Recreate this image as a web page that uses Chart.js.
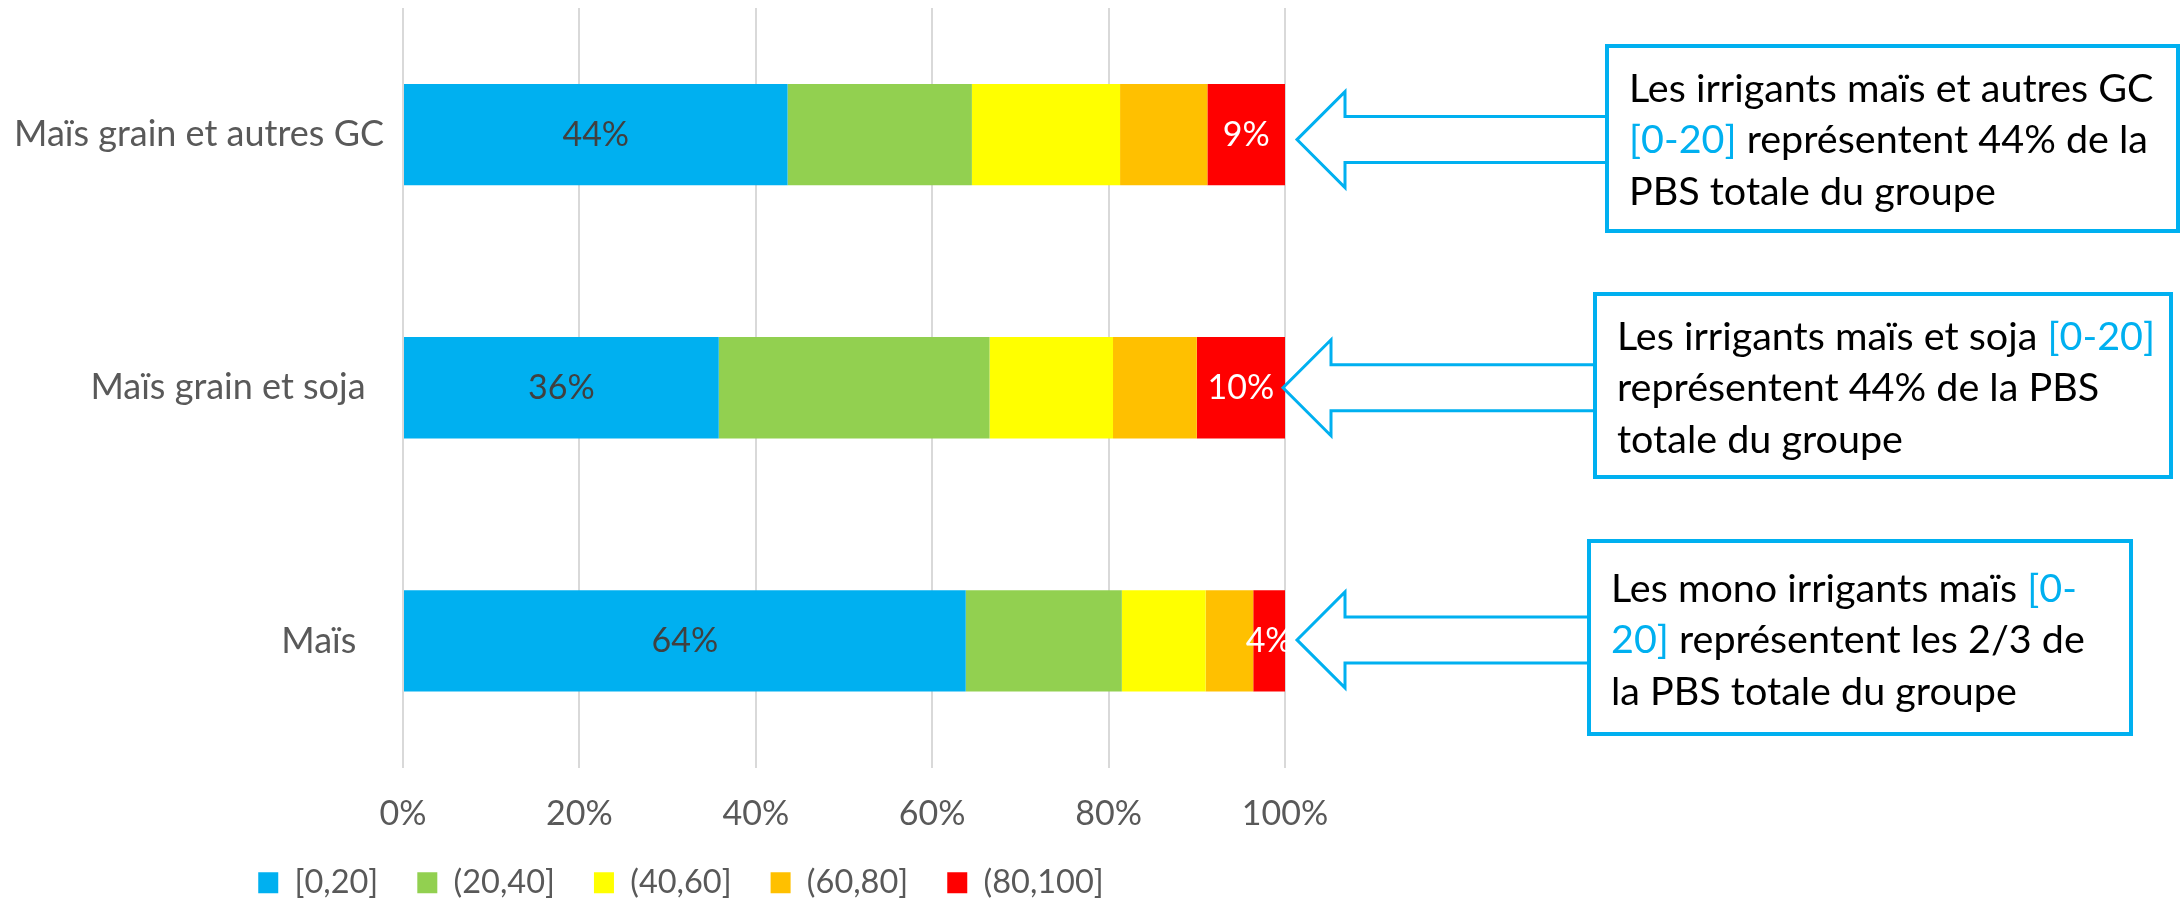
<!DOCTYPE html>
<html lang="fr">
<head>
<meta charset="utf-8">
<title>PBS par classe d'irrigation</title>
<script src="https://cdn.jsdelivr.net/npm/chart.js@4.4.1/dist/chart.umd.min.js"></script>
<style>
  html, body { margin: 0; padding: 0; background: #fff; }
  #wrap { position: relative; width: 2182px; height: 901px; }
</style>
</head>
<body>
<div id="wrap"><canvas id="myChart"></canvas></div>
<script>
// donnees (% de la PBS du groupe)
const categories = ['Maïs grain et autres GC', 'Maïs grain et soja  ', 'Maïs   '];
const classes = ['[0,20]', '(20,40]', '(40,60]', '(60,80]', '(80,100]'];
const part0_20 = [43.6, 35.8, 63.8];
const part20_40 = [20.9, 30.7, 17.7];
const part40_60 = [16.8, 14.0, 9.5];
const part60_80 = [9.9, 9.5, 5.4];
const part80_100 = [8.8, 10.0, 3.6];
const tickLabels = ['0%', '20%', '40%', '60%', '80%', '100%'];

// textes des encadres, {..} = en bleu
const notes = [
  ['Les irrigants maïs et autres GC', '{[0-20]} représentent 44% de la', 'PBS totale du groupe'],
  ['Les irrigants maïs et soja {[0-20]}', 'représentent 44% de la PBS', 'totale du groupe'],
  ['Les mono irrigants maïs {[0-}', '{20]} représentent les 2/3 de', 'la PBS totale du groupe']
];

const couleurs = ['#00B0F0', '#92D050', '#FFFF00', '#FFC000', '#FF0000'];
const police = 'Lato';
const gris = '#595959';

// position des encadres
const boites = [
  { x: 1607, y: 46, w: 571, h: 185, ty: 43, gap: 12, dy: 5 },
  { x: 1595, y: 294, w: 576, h: 183, ty: 43, gap: -2, dy: 0 },
  { x: 1589, y: 541, w: 542, h: 193, ty: 48, gap: 12, dy: -1 }
];

const etiquettes = {
  id: 'etiquettes',
  afterDatasetsDraw(chart) {
    const ctx = chart.ctx;
    ctx.save();
    ctx.font = '34px ' + police;
    ctx.textAlign = 'center';
    ctx.textBaseline = 'middle';
    [[0, '#404040'], [4, '#FFFFFF']].forEach(([di, col]) => {
      chart.getDatasetMeta(di).data.forEach((bar, i) => {
        const v = chart.data.datasets[di].data[i];
        const p = bar.getCenterPoint();
        ctx.fillStyle = col;
        ctx.fillText(Math.round(v) + '%', p.x, p.y);
      });
    });
    ctx.restore();
  }
};

const encadres = {
  id: 'encadres',
  afterDraw(chart) {
    const ctx = chart.ctx;
    const xs = chart.scales.x, ys = chart.scales.y;
    ctx.save();
    boites.forEach((b, i) => {
      const tx = xs.getPixelForValue(100) + b.gap;
      const cy = ys.getPixelForValue(i) + b.dy;
      const hx = tx + 48;
      // fleche
      ctx.strokeStyle = '#00B0F0';
      ctx.lineWidth = 3;
      ctx.lineJoin = 'miter';
      ctx.beginPath();
      ctx.moveTo(b.x, cy - 23);
      ctx.lineTo(hx, cy - 23);
      ctx.lineTo(hx, cy - 48);
      ctx.lineTo(tx, cy);
      ctx.lineTo(hx, cy + 48);
      ctx.lineTo(hx, cy + 23);
      ctx.lineTo(b.x, cy + 23);
      ctx.stroke();
      // cadre
      ctx.lineWidth = 4;
      ctx.strokeRect(b.x, b.y, b.w, b.h);
      // texte
      ctx.font = '39.5px ' + police;
      ctx.textAlign = 'left';
      ctx.textBaseline = 'middle';
      notes[i].forEach((ligne, k) => {
        let x = b.x + 22;
        const y = b.y + b.ty + k * 51.5;
        ligne.split(/(\{[^}]*\})/).forEach(morceau => {
          if (!morceau) return;
          let t = morceau, c = '#000000';
          if (morceau[0] === '{') { t = morceau.slice(1, -1); c = '#00B0F0'; }
          ctx.fillStyle = c;
          ctx.fillText(t, x, y);
          x += ctx.measureText(t).width;
        });
      });
    });
    ctx.restore();
  }
};

const series = [part0_20, part20_40, part40_60, part60_80, part80_100];

const data = {
  labels: categories,
  datasets: series.map((s, i) => ({
    label: classes[i],
    data: s,
    backgroundColor: couleurs[i],
    borderWidth: 0,
    barPercentage: 0.5,
    categoryPercentage: 0.8
  }))
};

const config = {
  type: 'bar',
  data,
  options: {
    indexAxis: 'y',
    responsive: true,
    maintainAspectRatio: false,
    animation: false,
    layout: { padding: { top: 8, right: 820, bottom: -8, left: 0 } },
    scales: {
      x: {
        stacked: true,
        min: 0,
        max: 100,
        ticks: {
          stepSize: 20,
          padding: 26,
          color: gris,
          font: { family: police, size: 34 },
          callback: (v, i) => tickLabels[i]
        },
        grid: { color: '#D9D9D9', lineWidth: 2, drawTicks: false },
        border: { display: false },
        afterFit(s) { s.height = 60; }
      },
      y: {
        stacked: true,
        ticks: {
          padding: -19,
          color: gris,
          font: { family: police, size: 36 }
        },
        grid: { display: false, drawTicks: true, tickLength: 38 },
        border: { display: false },
        afterFit(s) { s.width = 403; }
      },
      yR: {
        type: 'category',
        position: 'right',
        ticks: { display: false },
        grid: { display: false, drawTicks: false },
        border: { display: false },
        afterFit(s) { s.width = 77; }
      }
    },
    plugins: {
      legend: {
        position: 'bottom',
        labels: {
          boxWidth: 20,
          boxHeight: 21,
          padding: 39,
          color: gris,
          font: { family: police, size: 32.5 }
        }
      },
      tooltip: { enabled: false }
    }
  },
  plugins: [etiquettes, encadres]
};

const myChart = new Chart(document.getElementById('myChart'), config);
</script>
</body>
</html>
